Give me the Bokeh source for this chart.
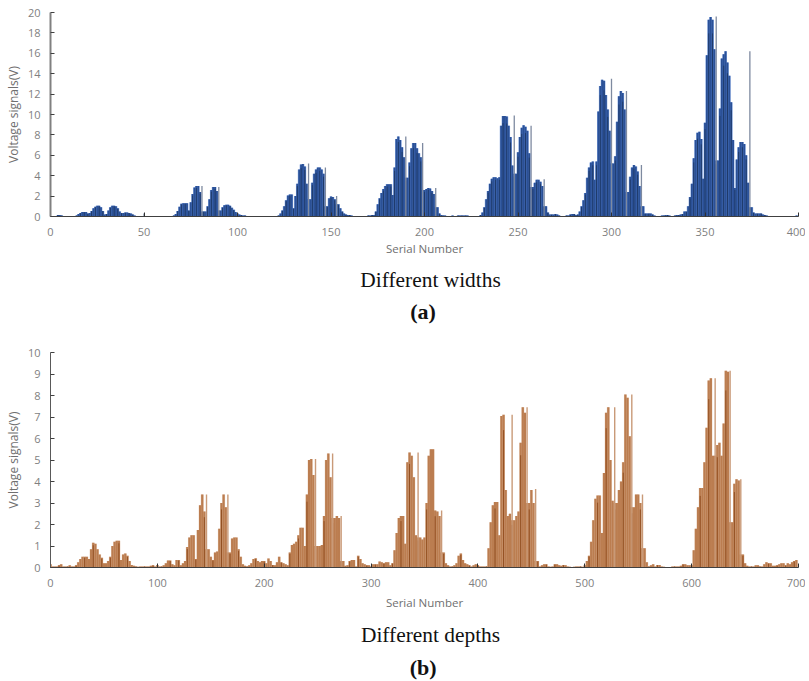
from bokeh.plotting import figure
from bokeh.layouts import column
from bokeh.models import Range1d, FixedTicker, ColumnDataSource
from bokeh.core.properties import value
from bokeh.embed import file_html
from bokeh.resources import INLINE

# Different widths: one reading per serial number, 0..399
widths_v = [
 .05,.05,.05,.05,.15,.15,.1,.05,.05,.05, .05,.05,.05,.05,.1,.25,.35,.45,.45,.45,
 .3,.35,.55,.8,.95,1.05,1.05,.9,.55,.2, .25,.6,.9,1.05,1.05,1.0,.8,.5,.35,.35,
 .4,.4,.35,.3,.2,.1,.05,.05,.05,.05, .3,.05,.05,.05,.05,.05,.05,.05,.05,.05,
 .05,.05,.05,.05,.05,.05,.1,.25,.55,.95, 1.25,1.3,1.3,1.3,.6,1.4,2.2,2.85,3.0,3.0,
 2.4,3.0,.5,.5,1.0,1.7,2.6,2.9,2.9,2.5, 2.9,.6,.9,1.1,1.15,1.15,1.05,.85,.65,.45,
 .3,.2,.15,.1,.1,.05,.05,.05,.05,.05, .05,.05,.05,.05,.05,.05,.05,.05,.05,.05,
 .05,.05,.1,.3,.6,1.0,1.6,2.05,2.15,2.15, .8,2.0,3.2,4.6,5.1,5.15,4.9,3.2,5.2,1.7,
 3.3,4.2,4.6,4.8,4.8,4.6,4.2,4.8,1.0,1.8, 1.95,1.9,1.7,2.0,1.2,.8,.5,.3,.2,.15,
 .15,.1,.05,.05,.05,.05,.05,.05,.05,.05, .1,.1,.15,.15,.5,1.2,1.8,2.3,2.7,3.0,
 3.15,3.15,3.15,2.1,4.8,7.6,7.85,7.5,6.8,5.8, 7.85,3.8,5.3,6.7,7.2,7.2,6.7,6.2,5.8,7.2,
 2.6,2.7,2.8,2.75,2.5,2.2,2.8,.9,.3,.15, .1,.1,.05,.05,.05,.1,.05,.05,.1,.1,
 .1,.1,.1,.1,.05,.05,.05,.05,.05,.05, .15,.4,.9,1.7,2.5,3.2,3.7,3.85,3.85,3.75,
 3.85,8.9,9.85,9.85,9.8,8.9,7.8,5.0,9.9,4.2, 6.3,7.8,8.7,8.95,8.8,8.4,6.2,8.9,2.9,3.3,
 3.6,3.6,3.4,3.0,3.65,1.0,.4,.2,.2,.2, .25,.2,.1,.05,.05,.05,.1,.1,.2,.25,
 .25,.15,.2,.5,1.0,1.6,2.3,3.8,4.8,5.3, 5.4,3.6,5.4,10.3,12.8,13.4,13.3,11.9,10.5,8.4,
 13.5,5.2,5.9,9.3,11.8,12.3,12.1,10.5,12.3,2.4, 3.9,4.8,5.05,4.9,4.4,3.0,5.05,1.0,.3,.3,
 .3,.3,.2,.1,.05,.05,.05,.1,.1,.15, .15,.1,.05,.05,.1,.15,.15,.2,.25,.5,
 .5,1.0,1.9,3.2,5.7,7.5,8.2,8.3,7.6,3.7, 9.2,15.8,19.3,19.55,19.3,16.4,19.6,5.5,10.6,15.5,
 15.9,16.2,15.1,13.8,11.2,7.5,2.8,5.6,6.8,7.3, 7.3,7.1,6.0,3.3,16.2,.9,.4,.3,.3,.3,
 .3,.2,.15,.1,.05,.05,.05,.05,.05,.05, .05,.05,.05,.05,.05,.05,.05,.05,.05,.1,
]
# the narrow pale spikes closing each hump (positions in widths_v)
widths_spikes = [50, 81, 90, 138, 147, 153, 190, 199, 206, 248, 257, 264, 300, 308, 316, 356, 374]

# Different depths: one reading per two serial numbers, 0..698
depths_v = [
 .15,.05,.05,.05,.1,.15,.05,.05,.05,.1, .05,.05,.1,.25,.4,.5,.5,.5,.4,.85,
 1.15,1.1,.85,.6,.45,.2,.2,.3,.5,1.0, 1.2,1.25,1.25,.35,.6,.65,.55,.3,.12,.08,
 .05,.03,.05,.05,.05,.05,.05,.08,.1,.05, .12,.05,.05,.1,.2,.33,.33,.15,.1,.35,
 .35,.1,.2,.3,.95,1.4,1.5,1.5,.4,1.75, 2.9,3.4,2.6,3.4,.85,.5,.35,.7,.75,1.8,
 3.0,3.4,2.8,3.4,.7,1.35,1.4,1.4,.85,.5, .15,.08,.05,.1,.2,.4,.43,.3,.25,.3,
 .3,.2,.42,.3,.12,.1,.25,.5,.25,.2, .15,.1,.7,1.05,1.1,1.2,1.5,1.85,1.85,1.0,
 3.4,5.0,5.05,4.3,5.05,1.0,1.0,1.05,2.4,5.0, 5.3,4.2,5.3,2.3,2.4,2.3,2.4,.3,.08,.1,
 .3,.35,.35,.05,.55,.4,.2,.15,.1,.1, .05,.15,.15,.15,.28,.25,.2,.25,.25,.1,
 .2,.8,1.6,2.3,2.4,2.4,1.1,4.9,5.35,5.2, 4.2,1.5,5.35,1.4,1.3,1.4,3.0,5.2,5.5,5.5,
 2.65,2.6,2.4,2.65,.7,.2,.1,.05,.05,.1, .2,.55,.65,.35,.2,.15,.1,.05,.1,.15,
 .1,.05,.05,.05,.05,.9,2.1,2.9,3.05,3.05, 1.5,7.05,7.1,3.6,2.4,2.5,7.1,2.2,2.4,2.6,
 5.8,7.45,7.2,7.45,3.0,3.6,3.0,3.65,.3,.05, .1,.15,.15,.05,.03,.05,.15,.15,.1,.08,
 .12,.1,.05,.03,.02,.03,.05,.05,.05,.03, .1,.3,.55,1.2,2.2,3.2,3.35,3.35,1.6,4.4,
 7.2,7.45,5.0,3.1,7.45,3.0,3.6,4.0,4.9,8.05, 7.9,6.1,8.05,2.8,3.4,3.4,3.0,3.4,.9,.25,
 .05,.1,.15,.05,.12,.12,.05,.03,.02,.02, .02,.05,.05,.05,.05,.08,.15,.15,.1,.1,
 .1,.8,1.8,2.8,3.7,3.7,4.9,6.5,8.7,8.8, 5.2,8.8,5.7,5.8,5.2,6.7,9.15,9.1,9.15,2.1,
 3.9,4.1,4.05,4.1,.6,.2,.08,.05,.05,.05, .1,.1,.05,.05,.15,.25,.2,.2,.08,.08,
 .1,.15,.2,.2,.1,.2,.15,.25,.3,.35,
]
depths_spikes = [73, 83, 124, 132, 136, 172, 183, 216, 223, 227, 264, 272, 277, 311, 318, 323]

widths_x = list(range(len(widths_v)))
depths_x = [i * 2 for i in range(len(depths_v))]
x_ticks_a = [0, 50, 100, 150, 200, 250, 300, 350, 400]
y_ticks_a = list(range(0, 21, 2))
x_ticks_b = [0, 100, 200, 300, 400, 500, 600, 700]
y_ticks_b = list(range(0, 11))

GRAY = "#7f7f7f"
FONT = "Open Sans"
WIDTH = 805

def body(vals, spikes):
    """Heights of the wide bars: each spike is drawn apart, so its bar stops at the lower neighbour."""
    out = list(vals)
    for i in spikes:
        out[i] = min(vals[i - 1], vals[i + 1])
    return out

def panel(xmax, ymax, xt, yt, left, ftop, fh, total_h, fw, spine, spine_w, xlab_standoff):
    p = figure(width=WIDTH, height=total_h, x_range=Range1d(0, xmax), y_range=Range1d(0, ymax),
               toolbar_location=None, output_backend="svg",
               min_border_left=left, min_border_right=WIDTH - left - fw,
               min_border_top=ftop, min_border_bottom=total_h - ftop - fh)
    p.outline_line_color = None
    p.grid.visible = False
    for ax, ticks in ((p.xaxis[0], xt), (p.yaxis[0], yt)):
        ax.ticker = FixedTicker(ticks=ticks)
        ax.major_label_text_color = GRAY
        ax.major_label_text_font = FONT
        ax.major_label_text_font_size = "11px"
        ax.axis_label_text_color = "#6f6f6f"
        ax.axis_label_text_font = FONT
        ax.axis_label_text_font_style = "normal"
        ax.minor_tick_line_color = None
        ax.major_tick_in = 4
        ax.major_tick_out = 0
    p.xaxis.axis_label = "Serial Number"
    p.yaxis.axis_label = "Voltage signals(V)"
    p.xaxis.axis_label_text_font_size = "11.5px"
    p.yaxis.axis_label_text_font_size = "12px"
    p.xaxis.major_label_standoff = 11
    p.yaxis.major_label_standoff = 10
    p.xaxis.axis_label_standoff = xlab_standoff
    p.yaxis.axis_label_standoff = 3
    p.xaxis.axis_line_color = "#404040"
    p.xaxis.major_tick_line_color = "#303030"
    p.yaxis.axis_line_color = spine
    p.yaxis.axis_line_width = spine_w
    p.yaxis.major_tick_line_color = "#404040"
    return p

def caption(cap, tag, height, cap_y, tag_y, cx_cap, cx_tag):
    c = figure(width=WIDTH, height=height, x_range=Range1d(0, WIDTH), y_range=Range1d(height, 0),
               toolbar_location=None, output_backend="svg",
               x_axis_location=None, y_axis_location=None,
               min_border_left=0, min_border_right=0, min_border_top=0, min_border_bottom=0)
    c.grid.visible = False
    c.outline_line_color = None
    c.text(x=[cx_cap], y=[cap_y], text=[cap], text_font=value("Liberation Serif"), text_font_size="21.4px",
           text_color="#111111", text_align="center", text_baseline="middle")
    c.text(x=[cx_tag], y=[tag_y], text=[tag], text_font=value("Liberation Serif"), text_font_size="22px",
           text_font_style="bold", text_color="#111111", text_align="center", text_baseline="middle")
    return c

# (a)
pa = panel(400, 20, x_ticks_a, y_ticks_a, 50, 12, 204, 262, 748, "#808080", 2, 2)
sa = ColumnDataSource(dict(x=widths_x, top=body(widths_v, widths_spikes)))
pa.vbar(x="x", top="top", width=1.5, bottom=0, source=sa, fill_color="#5c89da", fill_alpha=0.75, line_color=None)
pa.vbar(x="x", top="top", width=1.0, bottom=0, source=sa, fill_color="#2a5096", line_color=None)
dark_i = widths_x[::2]
pa.segment(x0=dark_i, y0=[0] * len(dark_i), x1=dark_i, y1=[v * 0.93 for v in sa.data["top"][::2]],
           line_color="#16263f", line_width=0.7, line_alpha=0.75)
pa.segment(x0=widths_spikes, y0=[0] * len(widths_spikes), x1=widths_spikes,
           y1=[widths_v[i] for i in widths_spikes], line_color="#7e8aa0", line_width=1.3)

# (b)
pb = panel(700, 10, x_ticks_b, y_ticks_b, 49, 22, 215, 290, 749, "#595959", 1, 5)
sb = ColumnDataSource(dict(x=depths_x, top=body(depths_v, depths_spikes)))
pb.vbar(x="x", top="top", width=2.7, bottom=0, source=sb, fill_color="#e3c3aa", fill_alpha=0.8, line_color=None)
pb.vbar(x="x", top="top", width=2.05, bottom=0, source=sb, fill_color="#bb7d50", line_color=None)
dark_j = list(range(0, len(depths_x), 4))
pb.segment(x0=[depths_x[j] for j in dark_j], y0=[0] * len(dark_j), x1=[depths_x[j] for j in dark_j],
           y1=[sb.data["top"][j] * 0.9 for j in dark_j], line_color="#8a4518", line_width=0.9, line_alpha=0.9)
pb.segment(x0=[depths_x[j] for j in depths_spikes], y0=[0] * len(depths_spikes),
           x1=[depths_x[j] for j in depths_spikes], y1=[depths_v[j] for j in depths_spikes],
           line_color="#c99a78", line_width=1.4)

capa = caption("Different widths", "(a)", 68, 17, 49, 409, 401)
capb = caption("Different depths", "(b)", 61, 14, 47, 409, 401)

page = column(pa, capa, pb, capb, spacing=0)
open("out.html", "w").write(file_html(page, INLINE))
